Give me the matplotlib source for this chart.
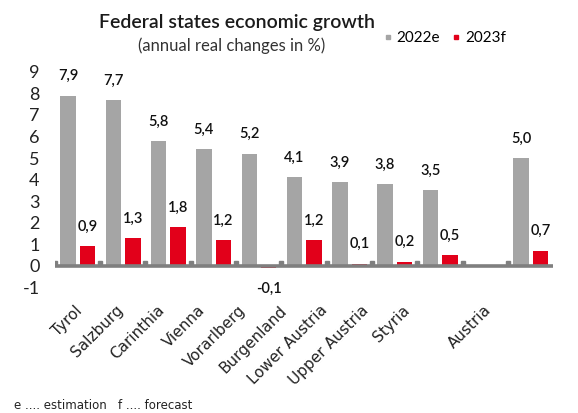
import matplotlib.pyplot as plt
from matplotlib.lines import Line2D
from matplotlib.transforms import ScaledTranslation
import numpy as np

# categories (empty slot before Austria)
states = ["Tyrol", "Salzburg", "Carinthia", "Vienna", "Vorarlberg", "Burgenland",
          "Lower Austria", "Upper Austria", "Styria", "", "Austria"]
growth_2022e = [7.9, 7.7, 5.8, 5.4, 5.2, 4.1, 3.9, 3.8, 3.5, np.nan, 5.0]
growth_2023f = [0.9, 1.3, 1.8, 1.2, -0.1, 1.2, 0.1, 0.2, 0.5, np.nan, 0.7]
yticks = [-1, 0, 1, 2, 3, 4, 5, 6, 7, 8, 9]

GREY = "#A5A5A5"
RED = "#E2001A"
AXIS = "#7F7F7F"


def fmt(v):
    return f"{v:.1f}".replace(".", ",")


def drawGraph():
    fig = plt.figure(figsize=(5.78, 4.13), dpi=100)
    ax = fig.add_axes([0.095, 0.304, 0.862, 0.522])

    x = np.arange(len(states))
    w = 0.34
    b1 = ax.bar(x - 0.21, growth_2022e, w, color=GREY, zorder=2)
    b2 = ax.bar(x + 0.22, growth_2023f, w, color=RED, zorder=2)

    for bars, vals in ((b1, growth_2022e), (b2, growth_2023f)):
        for rect, v in zip(bars, vals):
            if np.isnan(v):
                continue
            cx = rect.get_x() + rect.get_width() / 2
            off = 14 if v >= 0 else -15
            ax.annotate(fmt(v), (cx, v), xytext=(0, off), textcoords="offset points",
                        ha="center", va="center", fontsize=10.5, family="Lato",
                        fontweight="semibold", color="#111111")

    # zero line with small boundary ticks
    ax.axhline(0, color=AXIS, lw=2.6, zorder=3)
    edges = np.arange(len(states) + 1) - 0.5
    ax.plot(edges[:-1], np.zeros(len(edges) - 1) + 0.12, ls="none", marker="s",
            ms=2.5, color=AXIS, zorder=3)

    ax.set_xlim(-0.5, len(states) - 0.5)
    ax.set_ylim(-1, 9)
    ax.set_yticks(yticks)
    ax.set_yticklabels([str(t) for t in yticks], fontsize=13, family="Lato", color="#222222")
    ax.set_xticks(x)
    ax.set_xticklabels(states, rotation=45, ha="right", rotation_mode="anchor",
                       fontsize=11, color="#222222")
    ax.tick_params(axis="both", length=0)
    ax.tick_params(axis="x", pad=11)
    ax.tick_params(axis="y", pad=11)
    # rotated labels sit on a slightly tighter spacing than the bars
    for i, lbl in enumerate(ax.get_xticklabels()):
        dx = (-2.6 - 4.47 * i) / 100.0
        lbl.set_transform(lbl.get_transform() + ScaledTranslation(dx, 0, fig.dpi_scale_trans))
    for s in ax.spines.values():
        s.set_visible(False)

    fig.text(0.41, 0.945, "Federal states economic growth", ha="center", va="center",
             fontsize=14, family="Lato", fontweight="semibold", color="#1a1a1a")
    fig.text(0.40, 0.89, "(annual real changes in %)", ha="center", va="center",
             fontsize=12, family="Lato", color="#333333")

    handles = [Line2D([], [], ls="none", marker="s", ms=3.5, color=GREY),
               Line2D([], [], ls="none", marker="s", ms=3.5, color=RED)]
    fig.legend(handles, ["2022e", "2023f"], loc="center", bbox_to_anchor=(0.77, 0.908),
               ncol=2, frameon=False, prop={"family": "Lato", "size": 11},
               handlelength=0.5, handletextpad=0.35, columnspacing=0.8)

    fig.text(0.025, 0.01, "e .... estimation   f .... forecast", fontsize=8.5,
             color="#222222")

    fig.savefig("out.png", dpi=100)


def main():
    drawGraph()


if __name__ == "__main__":
    main()
